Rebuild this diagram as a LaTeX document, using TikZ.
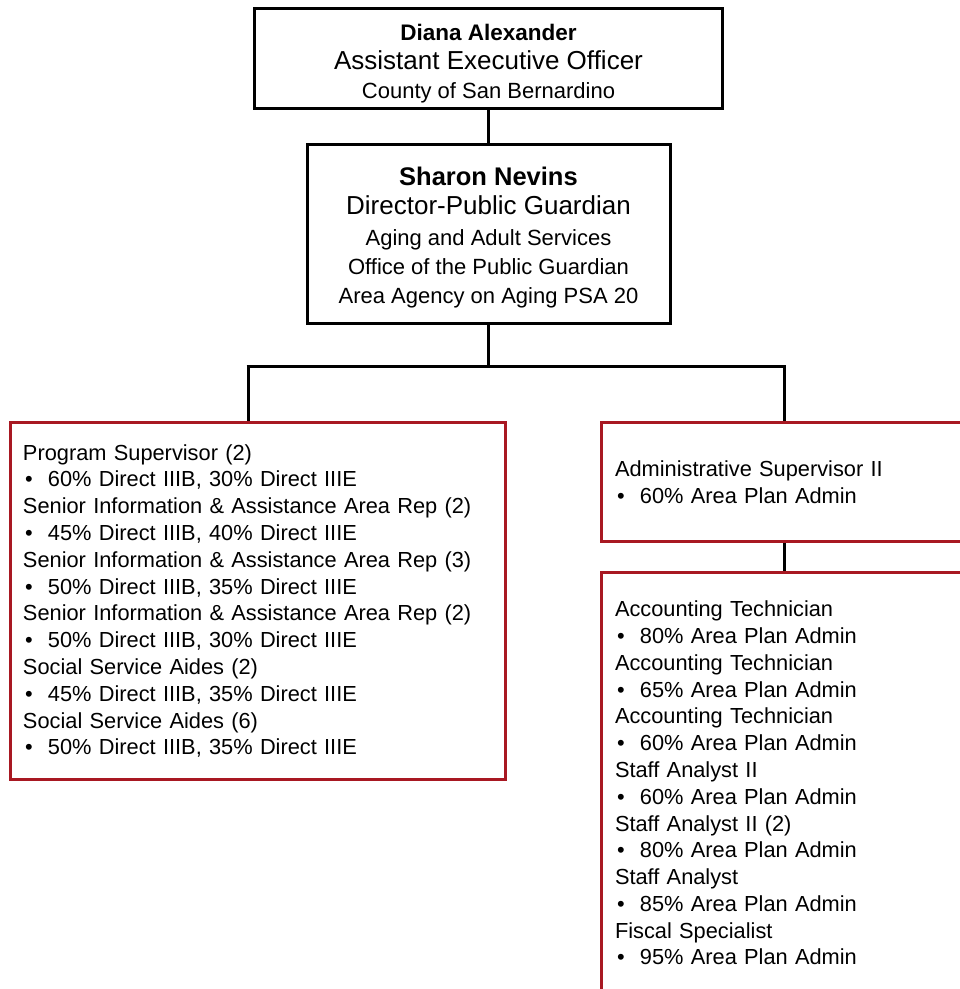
\documentclass[tikz,border=0pt]{standalone}
\usepackage{fontspec}
\setmainfont{Liberation Sans}
\usepackage{xcolor}
\definecolor{boxred}{RGB}{168,24,34}
\newcommand{\bul}{\makebox[25pt][l]{\hspace{2pt}\textbullet}}

\begin{document}
\begin{tikzpicture}[x=1pt,y=-1pt,
    conn/.style={line width=3pt,black},
    headbox/.style={draw=black,line width=3pt,align=center,inner sep=0pt,
        font=\fontsize{22}{29}\selectfont},
    staffbox/.style={draw=boxred,line width=3.5pt,align=left,inner ysep=0pt,
        font=\fontsize{21.8}{26.8}\selectfont}]
        \useasboundingbox (0,0) rectangle (960,989);
        \clip (0,0) rectangle (960,989);

        % Executive boxes
        \node[headbox,minimum width=468pt,minimum height=100pt] (aeo) at (488.5,58.5)
            {\rule{0pt}{27pt}{\bfseries\fontsize{22.5}{29}\selectfont Diana Alexander}\\
             {\fontsize{26}{29}\selectfont Assistant Executive Officer}\\
             County of San Bernardino};
        \node[headbox,minimum width=363pt,minimum height=179pt] (dir) at (488.5,234)
            {\rule{0pt}{26pt}{\bfseries\fontsize{25.5}{29}\selectfont Sharon Nevins}\\
             {\fontsize{26}{29}\selectfont Director-Public Guardian}\\[2pt]
             Aging and Adult Services\\
             Office of the Public Guardian\\
             Area Agency on Aging PSA 20};

        % Staff boxes
        \node[staffbox,minimum width=495pt,minimum height=357pt,
              inner xsep=12.5pt,text width=470pt] (prog) at (258,601)
            {Program Supervisor (2)\\
             \bul 60\% Direct IIIB, 30\% Direct IIIE\\
             Senior Information \& Assistance Area Rep (2)\\
             \bul 45\% Direct IIIB, 40\% Direct IIIE\\
             Senior Information \& Assistance Area Rep (3)\\
             \bul 50\% Direct IIIB, 35\% Direct IIIE\\
             Senior Information \& Assistance Area Rep (2)\\
             \bul 50\% Direct IIIB, 30\% Direct IIIE\\
             Social Service Aides (2)\\
             \bul 45\% Direct IIIB, 35\% Direct IIIE\\
             Social Service Aides (6)\\
             \bul 50\% Direct IIIB, 35\% Direct IIIE};
        \node[staffbox,minimum width=365pt,minimum height=119pt,
              inner xsep=13.5pt,text width=338pt] (admin) at (784,482)
            {Administrative Supervisor II\\
             \bul 60\% Area Plan Admin};
        \node[staffbox,minimum width=365pt,minimum height=421pt,
              inner xsep=13.5pt,text width=338pt] (acct) at (784,783)
            {Accounting Technician\\
             \bul 80\% Area Plan Admin\\
             Accounting Technician\\
             \bul 65\% Area Plan Admin\\
             Accounting Technician\\
             \bul 60\% Area Plan Admin\\
             Staff Analyst II\\
             \bul 60\% Area Plan Admin\\
             Staff Analyst II (2)\\
             \bul 80\% Area Plan Admin\\
             Staff Analyst\\
             \bul 85\% Area Plan Admin\\
             Fiscal Specialist\\
             \bul 95\% Area Plan Admin};

        % Connectors
        \coordinate (split) at (488.5,366);
        \coordinate (lbar) at (248,366);
        \coordinate (rbar) at (784,366);
        \draw[conn] (aeo.south) -- (dir.north);
        \draw[conn] (dir.south) -- (split);
        \draw[conn] ([xshift=-1.5pt]lbar) -- ([xshift=1.5pt]rbar);
        \draw[conn] (lbar) -- (lbar |- prog.north);
        \draw[conn] (rbar) -- (admin.north);
        \draw[conn] (admin.south) -- (acct.north);
    \end{tikzpicture}
\end{document}
